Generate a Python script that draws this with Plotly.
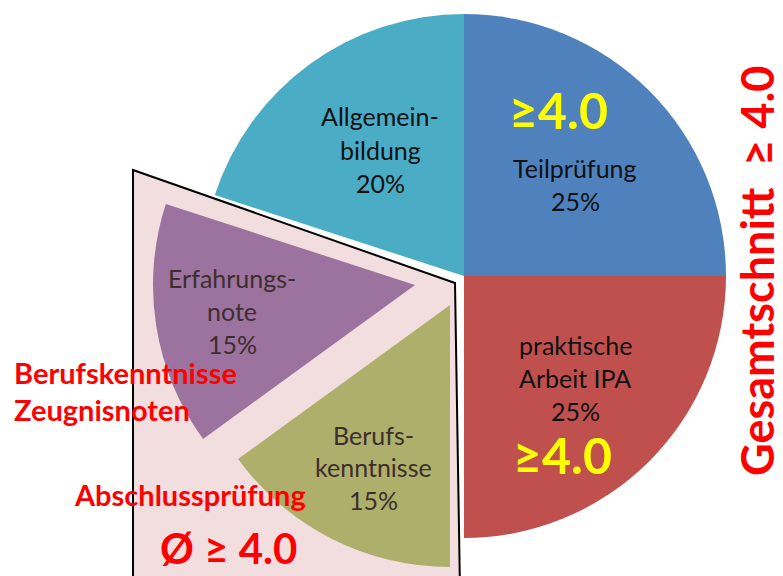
import plotly.graph_objects as go

# The page body has an 8px margin, so the figure is drawn 8px smaller and all
# reference pixel positions are shifted by that offset.
OFF = 8
W, H = 783 - OFF, 576 - OFF

# ---- data ----
labels = ["Teilprüfung", "praktische Arbeit IPA", "Berufskenntnisse", "Erfahrungsnote", "Allgemeinbildung"]
values = [25, 25, 15, 15, 20]
label_lines = [["Teilprüfung"], ["praktische", "Arbeit IPA"], ["Berufs-", "kenntnisse"],
               ["Erfahrungs-", "note"], ["Allgemein-", "bildung"]]
min_grade = "≥4.0"
side_lines = ["Berufskenntnisse", "Zeugnisnoten"]
final_exam = "Abschlussprüfung"
avg_text = "Ø ≥ 4.0"
overall_text = "Gesamtschnitt  ≥ 4.0"

# ---- style ----
colors = ["#4F81BD", "#C0504D", "#ADAF6B", "#9B739E", "#4BACC6"]
CLEAR = "rgba(0,0,0,0)"
FONT = "Lato"
R = 262

def px(x):
    return (x - OFF) / W

def py(y):
    return 1 - (y - OFF) / H

def dom(cx, cy):
    return dict(x=[px(cx - R), px(cx + R)], y=[py(cy + R), py(cy - R)])

fig = go.Figure()

# main pie (non-pulled slices); pulled slices drawn separately at their offset centres
traces = [
    ((464, 276), [0, 1, 4]),
    ((450, 305), [2]),
    ((415, 285), [3]),
]
for (cx, cy), shown in traces:
    cols = [colors[i] if i in shown else CLEAR for i in range(len(values))]
    fig.add_trace(go.Pie(
        labels=labels, values=values, sort=False, direction="clockwise", rotation=0,
        marker=dict(colors=cols, line=dict(width=0)),
        textinfo="none", hoverinfo="skip", showlegend=False,
        domain=dom(cx, cy),
    ))

# pink background polygon behind pulled slices
poly = [(133, 170), (455, 283), (460, 590), (133, 590)]
path = "M " + " L ".join(f"{px(x)},{py(y)}" for x, y in poly) + " Z"
fig.add_shape(type="path", path=path, xref="paper", yref="paper",
              fillcolor="#F2DEDE", line=dict(color="black", width=2), layer="below")

ann = []

def add_text(x, y, text, size, color, bold=False, xanchor="center", angle=0):
    ann.append(dict(x=px(x), y=py(y), xref="paper", yref="paper",
                    text=f"<b>{text}</b>" if bold else text,
                    showarrow=False, xanchor=xanchor, yanchor="middle", textangle=angle,
                    font=dict(family=FONT, size=size, color=color)))

# slice labels: centre x, line y positions, colour
label_pos = [
    (575, [168, 201], "#111111"),
    (575, [345, 378, 411], "#111111"),
    (373, [435, 467, 500], "#3D2E2E"),
    (232, [278, 311, 344], "#3D2E2E"),
    (380, [116, 150, 183], "#111111"),
]
for i, (x, ys, c) in enumerate(label_pos):
    lines = label_lines[i] + [f"{values[i]}%"]
    for line, y in zip(lines, ys):
        add_text(x, y, line, 25, c)

add_text(558, 110, min_grade, 50, "#FFFF00", bold=True)
add_text(562, 455, min_grade, 50, "#FFFF00", bold=True)

add_text(12, 372, side_lines[0], 29, "#FF0000", bold=True, xanchor="left")
add_text(12, 410, side_lines[1], 29, "#FF0000", bold=True, xanchor="left")
add_text(190, 494, final_exam, 29, "#FF0000", bold=True)
add_text(228, 548, avg_text, 42, "#FF0000", bold=True)
add_text(757, 271, overall_text, 45, "#FF0000", bold=True, angle=-90)

fig.update_layout(
    width=W, height=H, margin=dict(l=0, r=0, t=0, b=0),
    paper_bgcolor="white", plot_bgcolor="white",
    annotations=ann,
)

fig.write_html("out.html")
